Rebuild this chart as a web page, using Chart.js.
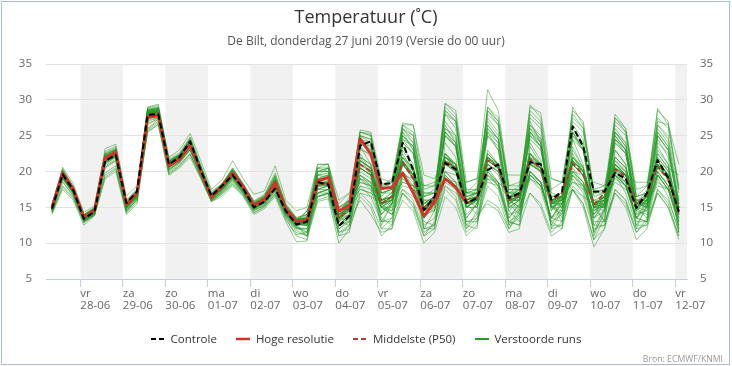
<!DOCTYPE html>
<html>
<head>
<meta charset="utf-8">
<script src="https://cdn.jsdelivr.net/npm/chart.js@4.4.1/dist/chart.umd.min.js"></script>
<style>
html,body{margin:0;padding:0;background:#fff;}
#wrap{position:relative;width:732px;height:366px;overflow:hidden;font-family:"Open Sans",sans-serif;}
canvas{position:absolute;left:0;top:0;}
#frame{position:absolute;left:1px;top:1px;width:729px;height:364px;border:1px solid #a9bed6;box-sizing:border-box;pointer-events:none;}
#title{position:absolute;left:0;top:7.3px;width:732px;text-align:center;font-size:18px;line-height:18px;color:#333;white-space:nowrap;}
#subtitle{position:absolute;left:0;top:35.3px;width:732px;text-align:center;font-size:12px;line-height:12px;color:#555;white-space:nowrap;}
#legend{position:absolute;left:0;top:331.5px;width:732px;display:flex;justify-content:center;font-size:11.5px;line-height:14px;color:#333;white-space:nowrap;}
#legend .item{display:flex;align-items:center;margin:0 9.5px;}
#legend svg{margin-right:6px;}
#credit{position:absolute;right:9px;top:354px;font-size:8.7px;line-height:10px;color:#999;white-space:nowrap;}
</style>
</head>
<body>
<div id="wrap">
  <canvas id="c" width="732" height="366" style="width:732px;height:366px"></canvas>
  <div id="title">Temperatuur (˚C)</div>
  <div id="subtitle">De Bilt, donderdag 27 juni 2019 (Versie do 00 uur)</div>
  <div id="legend"></div>
  <div id="credit">Bron: ECMWF/KNMI</div>
  <div id="frame"></div>
</div>
<script>
// ---------- DATA ----------
// time axis: hours since 27-06 00:00 (local); first value at 08:00, every 6 hours
const firstHour = 8;
const stepHours = 6;

const dayNames  = ['vr','za','zo','ma','di','wo','do','vr','za','zo','ma','di','wo','do','vr'];
const dayDates  = ['28-06','29-06','30-06','01-07','02-07','03-07','04-07','05-07','06-07','07-07','08-07','09-07','10-07','11-07','12-07'];
const shadedDays = ['28-06','30-06','02-07','04-07','06-07','08-07','10-07','12-07'];
const yTicks = [5,10,15,20,25,30,35];

const controle = [14.8,19.6,17.4,13.4, 14.4,21.5,22.3,15.6, 17.2,27.9,28.0,21.0, 22.0,24.2,20.2,16.6, 18.0,19.5,17.6,15.0, 15.8,17.6,14.5,12.6, 13.0,18.5,18.2,12.4, 13.8,23.6,24.2,18.2, 18.4,24.0,20.2,14.6, 16.5,21.2,20.3,15.6, 16.3,20.2,21.0,16.3, 17.0,21.3,21.0,16.1, 17.2,26.3,23.5,17.2, 17.2,19.8,19.0,14.9, 17.0,21.6,19.1,14.4];

const hogeResolutie = [15.0,19.8,17.6,13.6, 14.6,21.9,22.7,15.4, 17.0,27.5,27.8,20.8, 21.7,23.7,20.0,16.4, 18.0,19.8,17.9,15.3, 16.1,18.5,14.8,13.1, 13.2,18.7,19.2,14.5, 15.3,24.6,22.4,17.6, 17.8,19.8,17.0,13.8, 15.7,19.0,17.8,15.6];

const middelste = [14.9,19.5,17.3,13.5, 14.5,21.6,22.5,15.2, 16.9,28.0,28.2,21.0, 21.9,23.8,20.1,16.5, 17.8,19.6,17.6,15.2, 16.0,18.2,14.5,12.8, 13.0,18.0,18.5,13.5, 14.8,21.0,20.0,15.5, 16.5,21.3,19.0,14.5, 16.2,21.5,20.5,15.6, 16.3,21.6,20.6,16.0, 16.8,21.7,20.5,15.8, 17.0,21.2,19.5,15.4, 17.0,20.3,19.3,15.4, 16.8,20.7,18.9,14.1];

const verstoordeRuns = [
[15.2,19.9,17.6,13.8,14.7,22,22.9,15.5,17.1,28.4,28.6,21.3,22.2,24.3,20.4,16.8,18,20,17.9,15.4,16.3,18.8,14.9,13,12.5,19.5,19.8,13,14,24.5,23,16,17,22,19.5,14,15.5,28.5,27,16.5,17,25,23.5,15,15,20,18.5,13,14,25.5,23,15.5,16.5,21,20,15,13.5,24.5,22,12],
[14.6,19.1,17,13.2,14.2,21.2,22.1,14.9,16.6,27.6,27.9,20.7,21.5,23.4,19.8,16.2,17.5,19.2,17.3,15,15.7,17.8,14.2,12.5,13.2,18.2,18,13.8,15.5,18,17.5,15.5,15.5,17.5,16.5,14.5,16,21,20.5,16,16.5,28,26.5,17,18,26,24,15,15.5,20,18,13.5,14.5,24,22.5,14.5,16,21.5,19.5,15],
[15.4,20.4,17.9,13.9,14.9,22.6,23.3,15.9,17.4,28.8,29,21.6,22.4,24.7,20.8,16.9,18.2,20.4,18.2,15.8,16.6,19.5,15.2,13.3,13.6,20.5,20,14.5,15.3,25,24.5,17,17.5,25.5,23,15.5,16.5,26.5,24,15,16,22,20.5,16.5,17,28,26.5,16,13.5,24.5,21,12.5,14.5,19.5,18,13.5,15,26,24,16],
[14.3,18,16.4,13,14,19.8,20.8,14.5,16,26,27,20,21,22.5,19.3,16,17,18.5,16.9,14.6,15.2,17,13.8,11.5,11,16,16.5,11,12.5,18,16.5,13,13,17,15.5,11,13,19.5,18,13,13.5,16,15,12,14,19,17.5,12.5,12.5,17.5,15.5,10.5,13.5,20,18,13,13,17,15,11],
[14.9,19.6,17.3,13.5,14.5,21.7,22.6,15.2,16.9,28.1,28.3,21,21.9,23.9,20.1,16.5,17.8,19.7,17.6,15.2,16,18.3,14.6,12.9,13,18,18.5,13.5,15.5,25.5,25,18,19,26.5,25.5,17,17,21.5,20,15,15,20,18,13.5,15.5,21.5,20.5,16,16.5,29,26.5,17.5,18,25,23,15,16.5,21,19,14.5],
[15,19.7,17.5,13.7,14.4,21.9,22.4,15.4,17,28.3,28.1,21.2,22,23.6,20.3,16.6,17.9,19.9,17.8,15.4,16.2,18.6,14.4,12.4,14,17,17.5,14.5,15,20.5,19.5,15,15,20,18,13.5,15,25.5,23.5,14,15.5,29,27,17.5,17.5,22,20,15.5,16,17.5,16.5,15.5,16,20.5,19.5,15.5,15,19.5,17.5,13],
[14.4,19,16.8,13,14.1,21,22,14.8,16.5,27.4,27.7,20.6,21.4,23.2,19.7,16.1,17.4,19.1,17.2,14.8,15.6,17.6,14,12.2,11.5,19,19.5,12.5,13,23.5,21,13,15.5,21,19.5,15,16.5,19,18,16.5,17,21.5,20.5,16,16,25,23.5,14.5,16.5,21.5,20,15.5,16,27.5,25.5,16.5,18,28.5,27,17.5],
[15.3,20,17.7,13.9,14.8,22.2,23,15.7,17.3,28.6,28.7,21.5,22.3,24.4,20.6,16.9,18.2,20.2,18.1,15.6,16.5,19.2,15,13.3,13.5,18.5,19,14,14.5,24,22.5,15.5,16,21.5,19,14.5,16,29.5,28,17,18.5,31.4,28.5,18,18.5,27,24,15.5,16.5,22,20,15.5,13,23,21,12,15.5,22.5,20.5,15],
[14.2,17.8,16.2,12.8,13.9,20.5,21.5,14.3,16.2,26.8,27.2,20.2,21.2,23,19.5,16,17.2,18.8,17,14.7,15.4,17.3,14.1,12,12,17,17.5,12.5,14,20,19,14.5,15.5,24.5,22.5,14,14.5,19.5,18,13.5,15.5,21,20,16,17,19,18,16.5,15,19.5,17.5,13,13,17,15.5,11.5,13.5,19.5,17.5,12.5],
[15.1,19.8,17.5,13.6,14.6,21.8,22.7,15.3,17.1,28.2,28.5,21.1,22,24,20.2,16.6,17.9,19.8,17.7,15.3,16.1,18.4,14.7,13,13,20,20.5,14,16,25.8,25.5,19,18.5,25,23.5,16,16,26,24.5,15.5,16,22.5,21,16,16.5,22,20.5,16,16,25,23,14.5,16,21.5,20,15.5,15.5,25,23,15],
[14.8,19.4,17.2,13.4,14.5,21.5,22.3,15.1,16.8,27.9,28.1,20.9,21.8,23.7,20,16.4,17.7,19.5,17.5,15.1,15.9,18,14.4,12.7,12.8,17.8,18.2,13.2,14,19,18,14,15.5,21,19,14.5,16,22,20.5,15.5,15.5,25.5,23,14.5,13,24,21.5,12,12.5,23.5,20.5,11.5,15,21,19.5,15,16,21,19,14],
[15.4,20.2,17.8,14,15,22.8,23.5,16,17.6,28.9,29.2,21.8,22.6,24.8,20.9,17.2,18.3,20.5,18.3,15.9,16.8,19.8,15.5,13.6,14,21,21,15,16,24.5,24,17.5,18.5,26.8,26.5,18,18,22,21,16,16.5,26,24,15,16,22.5,21,16,16.5,21.5,20,15,15.5,25.5,23.5,15.5,17,19.5,18.5,16.5],
[14.5,19.2,16.9,13.1,14.1,19.2,20.3,14.2,15.8,25.6,26.6,19.6,20.7,22.3,19.2,15.9,16.9,18.3,16.7,14.3,15.1,16.8,13.5,11,10.5,15.8,16.2,10,12,17,15.5,12,13.5,19,17.5,13,12.5,17.5,16,11.5,13,19.5,18,13,12.5,17,15.5,11.5,13,19,17,12.5,12.5,17.5,16,11.5,13,19,16.5,11.5],
[15,19.6,17.4,13.6,14.6,21.7,22.5,15.3,17,28.1,28.3,21,21.9,23.8,20.2,16.5,17.8,19.6,17.6,15.2,16,18.2,14.5,12.8,13,18.5,18.8,13.5,14.5,21,20,15.5,16,24.5,23.5,15,15.5,26,25,15.5,16.5,26.5,24.5,15.5,17,29.3,27.5,17.5,18.5,27.5,26,16.5,17,22,20.5,15.5,15.5,24,22.5,15],
[14.7,19.3,17.1,13.3,14.3,21.4,22.2,15,16.7,27.8,28,20.8,21.7,23.5,19.9,16.3,17.6,19.4,17.4,15,15.8,18,14.3,12.6,11,19.5,19,12,13.5,21.5,20.5,15,14,17,15,11,12,22.5,20.5,12,14.5,25,23,14.5,16,21,20,15.5,16.5,18.5,17.5,16,15.5,19.5,18,13.5,13,17.5,16,12],
[15.1,20.1,17.6,13.7,14.8,22.3,23.1,15.7,17.3,28.5,28.8,21.4,22.1,24.1,20.5,16.7,18,20.1,17.9,15.5,16.3,18.9,14.9,13.2,14.5,17.5,18,15,16,18.5,18,16,16.5,21,19.5,15.5,16.5,21.5,20.5,16,17.5,19.5,18.5,17,17,21.5,20,15.5,16,21,19.5,15.5,15.5,24.5,22.5,14.5,17,28.8,26.5,18],
[14.9,19.4,17.3,13.5,14.4,21.3,22.3,15,16.4,26.5,27.5,20.5,21.6,23.5,19.9,16.4,17.6,19.3,17.4,15.1,15.9,18.4,14.8,13.4,13.5,18,18,14,15,21.5,20.5,16,16.5,21.5,19.5,15,16.5,21,20,15.5,16.5,21.5,21,16.5,17,24.5,23,15,15,20.5,18.5,14,16.5,20.5,19.5,15.5,16.5,20.5,19,14.5],
[15.2,19.9,17.4,13.6,14.7,22.1,22.8,15.6,17.2,28.6,28.9,21.3,22.3,24.3,20.3,16.5,18,20.3,18.1,15.6,16.4,19,15.2,13.5,13.5,20.5,21.1,14.5,15.5,24,23.5,17,17.5,22.5,20,15,16.5,28,26,16.5,17,22,21,16.5,17.5,28.5,27,17,16.5,26,24,15,16,28,26,16.5,17,26.5,24.5,15.5],
[14.2,18.7,16.6,12.9,13.9,20.8,21.7,14.6,16.3,27.2,27.5,20.4,21.2,23.1,19.5,15.9,17.1,18.9,17,14.6,15.3,17.5,13.8,12,12,17.5,17.5,12.5,13.5,19.5,18.5,14,16,18.5,18,16.5,17,19,18.5,17,17,21,20,16,15,19.5,18,13.5,15.5,21,19.5,15,16.5,18.5,17.5,16,16,21,19,14.5],
[14.9,19.7,17.4,13.5,14.6,21.8,22.6,15.2,17,28,28.4,21.1,22,23.9,20.1,16.6,17.9,19.7,17.7,15.3,16.1,18.5,14.6,12.8,13,18.2,18.6,13.6,15,23.5,22,15.5,16.5,25,23,14.5,16,22.5,21,16,16.5,26.5,24.5,15.5,16.5,25.5,23.5,15,16,22,20.5,15.5,16.5,21.5,20,15.5,16,25.5,23.5,15.5],
[14.6,19.2,17,13.2,14.2,21.3,22.2,14.9,16.6,27.7,27.9,20.7,21.6,23.5,19.8,16.2,17.5,19.3,17.3,14.9,15.7,17.9,14.2,12.4,11.5,16.5,16.8,11.5,12,16.5,15,11,12.5,16,14.5,10,11.5,16.5,15,11,12.5,19,17.5,12.5,13.5,19.5,18,13,12,17.5,15.5,10.5,12,17,15,10.5,12,17.5,15.5,11],
[15.3,20,17.7,13.8,14.9,22.3,23,15.6,17.3,28.5,28.7,21.4,22.3,24.3,20.5,16.8,18.1,20.1,18,15.5,16.4,18.9,15,13.2,13.5,20,20,14,15,22,21,16,16.5,25.5,24,15,16,28.5,27,17,17.5,27,25,15.5,16.5,22,21,16,16.5,28,26,17,17.5,22,20.5,16,16.5,22,20,15],
[14.9,19.5,17.3,13.5,14.4,19.5,20.5,14.5,16,25.5,26.5,19.5,20.5,22,19,15.8,16.5,18,16.5,14,14.8,16.5,13,10.2,10.3,18.5,18,11,11.5,22,19.5,12,12,23,20.5,12,14.5,21,20,15,16,21,19.5,15.5,14,17,15,11,12,22.5,20,11.5,14,25,23,14,14.5,20,18,13],
[15.1,19.8,17.6,13.7,14.7,22,22.8,15.4,17.2,28.3,28.5,21.2,22.1,24,20.3,16.7,18,19.9,17.8,15.4,16.2,18.6,14.8,13.1,14,16.5,17,14.5,15.5,20.5,19.5,15,16.5,26.5,25,17.5,18,27,25,16,17,22.5,21,16.5,16.5,26,24.5,15.5,15.5,20,18.5,14,16,21,19.5,15,16,21.5,19.5,14.5],
[14.8,19.4,17.2,13.4,14.4,21.5,22.4,15.1,16.8,27.9,28.1,20.9,21.8,23.7,20,16.4,17.7,19.5,17.5,15.1,15.9,18.1,14.4,12.7,13,18,18.5,13.5,15,17,16.5,15.5,16,18,17.5,16,16,25,23.5,15,16,21.5,20.5,16,16.5,21,20,15.5,15.5,24.5,23,15,15,19.5,18.5,14,15.5,21,19,14],
[15.2,19.8,17.6,13.8,14.8,22,22.8,15.5,17.2,28.4,28.5,21.3,22.2,24.2,20.4,16.8,18.1,20,17.9,15.5,16.3,18.7,14.8,13.1,13.3,18.5,19,14,16.5,25.5,25,18.5,17.5,22,20.5,15.5,16,22,21,16,15,20,18.5,13.5,15.5,25.5,23.5,14.5,16.5,21.5,20,15.5,16.5,27,25.5,16.5,17,25.5,23.5,15.5],
[14.6,19.1,17,13.2,14.2,21.2,22.1,14.9,16.6,27.6,27.9,20.7,21.6,23.4,19.8,16.2,17.5,19.2,17.3,14.9,15.7,17.8,14.2,12.5,12.8,17.5,18,13.5,14.5,20.5,19.5,15,14.5,19.5,17.5,13.5,16,18.5,17.5,16,16.5,18.5,18,16.5,16.5,21.5,20.5,16,16.5,18.5,18,16,16.5,21,19.5,15,16,18,17.5,16],
[15.3,20.1,17.8,14,14.9,22.5,23.2,15.8,17.4,28.7,28.9,21.5,22.4,24.5,20.7,17,18.3,20.4,18.2,15.7,16.7,19.4,15.4,13.5,14,20.5,20.5,14.5,16,25.5,25.3,18,17.5,26,24,15.5,16.5,28,27,17.5,17.5,29,27.5,18,18,26.5,25,16,16.5,26.5,24.5,15,15.5,26,24,15,16.5,27,26.5,21],
[14.7,19.3,17.1,13.3,14.3,21.4,22.3,15,16.7,27.8,28,20.8,21.7,23.6,19.9,16.3,17.6,19.4,17.4,15,15.8,18,14.3,12.6,12.5,17,17.5,13,12.5,22.5,20,12.5,15.5,24,22.5,14.5,16,21.5,20.5,15.5,16,22,20.5,16,14.5,20,18.5,13.5,15.5,22,20.5,15.5,15,20,18.5,13.5,15.5,21.5,19.5,14],
[15,19.6,17.3,13.6,14.5,21.7,22.6,15.3,16.9,28.1,28.2,21.1,21.9,23.9,20.1,16.5,17.8,19.6,17.6,15.2,16,18.2,14.6,12.9,13,18.5,18.5,13.5,14.5,21,20,15.5,16.5,21.5,19,14.5,15.5,29,27.5,17,17.5,22.5,21,16.5,17,19.5,18.5,16.5,16.5,21,19.5,15.5,16.5,19,18,16,16,20.5,19,14.5],
[15.1,19.7,17.5,13.6,14.6,21.9,22.7,15.4,17,28.3,28.4,21.1,22,24,20.3,16.6,17.9,19.8,17.7,15.3,16.1,18.4,14.6,12.9,13,19.5,20.5,14,15,24.5,23.5,16,17,26,25,16.5,17.5,22,20.5,15.5,16,28.5,27,17,17.5,26.5,24.5,15,16,28.5,27,17,17,25.5,23.5,15.5,16.5,22,20,15],
[14.4,18.5,16.6,13,14,20.6,21.5,14.6,16.3,27,27.5,20.3,21.3,23,19.5,16,17.2,18.7,16.9,14.5,15.4,17.2,13.7,11.8,11,16.5,17,11.5,12.5,19,17.5,13,13.5,19.5,17,12.5,13.5,20,18.5,13,13,18,16.5,12,14.5,21,20,15,14,17.5,15,9.5,12,19.5,17,12.5,12.5,23.5,21,11.5],
[15.2,19.9,17.6,13.8,14.7,22.1,22.9,15.5,17.2,28.4,28.6,21.3,22.2,24.2,20.4,16.7,18.1,20,17.9,15.4,16.3,18.7,14.9,13.1,13.5,19,19,14,15,23,22.5,16,16.5,22,20,15,16,25.5,24,15.5,16.5,22,20.5,16,16.5,27.5,26,16.5,17,22,20,15.5,16,24.5,23,15,16,22.5,20.5,14.5],
[14.8,19.5,17.2,13.4,14.4,21.6,22.4,15.1,16.8,28,28.1,20.9,21.8,23.7,20,16.4,17.7,19.5,17.5,15.1,15.9,18.1,14.4,12.7,12.5,17.5,18,13,15.5,17.5,17,16,16.5,18.5,18,17,17,21.5,20.5,16,16.5,21,20,16,15,20,18.5,13.5,14.5,19.5,18,13.5,15.5,21,19.5,15,14.5,19.5,17.5,13.5],
[15.3,20.2,17.8,13.9,14.8,22.4,23.1,15.6,17.3,28.6,28.8,21.4,22.3,24.5,20.6,16.9,18.2,20.2,18.1,15.6,16.5,19.3,15.3,13.4,13.5,20,20.5,14.5,15.5,25,24,16.5,18,26.5,26.5,19.5,19,22,21,17,17,22,21,16.5,16.5,22.5,21,16,16,25.5,23.5,15.5,16.5,22,20.5,15.5,17.5,27.5,26,17.5],
[14.5,19,16.9,13.1,14.1,21.1,22,14.8,16.5,27.5,27.8,20.6,21.5,23.3,19.7,16.1,17.4,19.1,17.2,14.8,15.6,17.7,14.1,12.3,11,18,18.5,12,13,19.5,18.5,13.5,12.5,23.5,21,12,12,24,22,12.5,14,20,18.5,13,12.5,23.5,21,12,14.5,21.5,20,15,13,23,21,12.5,15,21,19,13.5],
[15,19.6,17.4,13.6,14.6,21.7,22.5,15.3,17,28.1,28.3,21,22,23.9,20.2,16.6,17.9,19.7,17.7,15.3,16.1,18.3,14.6,12.9,13.2,18.3,18.6,13.5,15,21.5,20.5,15.5,16.5,21,19.5,15,15.5,25.5,24,15,16.5,19,18.5,17,17,21.5,20.5,16,16.5,21.5,20,15.5,16,26.5,25,16,15,20,18,13],
[14.9,19.4,17.3,13.5,14.5,21.6,22.4,15.2,16.9,27.9,28.2,21,21.9,23.8,20.1,16.5,17.8,19.6,17.6,15.2,16,18.2,14.5,12.8,14.5,17,17.5,15,15.5,17.5,17,15.5,14,19.5,18,13.5,15.5,21,20,15.5,16,25.5,24,15,16,25,23.5,15,14.5,19.5,18,13.5,15.5,20.5,19,15,15.5,21,19.5,14.5],
[15.5,20.6,18.3,14.3,15.2,23.2,23.8,16.6,18,29,29.4,22,23,25.3,21.5,17.5,18.8,21.5,19,16.8,17.3,20.8,16,14.5,15,21,21,16,17,25,24.5,18,18,26,24.5,16.5,17,29.5,28.5,18.5,19,27.5,25.5,16.5,17.5,29,28.2,19,18.5,27,25.5,17,17.5,27.5,26,17.5,18,26.5,25,17],
[14.7,19.3,17.1,13.3,14.3,21.4,22.3,15,16.7,27.8,28,20.8,21.7,23.6,19.9,16.3,17.6,19.4,17.4,15,15.8,18,14.3,12.6,12.8,18,18.3,13.3,14.5,20.5,19.5,15,16,21,19,14.5,16,21.5,20.5,15.5,16,21.5,20.5,16,16.5,21.5,20.5,15.5,16.5,21,19.5,15,16.5,20.5,19,15,16.5,20.5,19,14],
[15.1,19.8,17.5,13.7,14.7,21.9,22.8,15.4,17.1,28.3,28.5,21.2,22.1,24,20.3,16.7,18,19.9,17.8,15.4,16.2,18.5,14.7,13,14.5,18,18.5,15.5,17,19,18.5,17,17.5,19.5,19,18,18.5,20,19.5,18.5,19,20.5,20.5,19.5,19.5,21,20.5,19,18.5,20,19.5,18.5,18,20,19.5,18.5,18.5,21,20.5,19.5],
[14.6,19.2,17,13.2,14.2,21.3,22.2,14.9,16.6,27.7,28,20.7,21.6,23.5,19.8,16.2,17.5,19.3,17.3,14.9,15.7,17.9,14.2,12.5,12.5,18,18.5,13.5,13,16,14,11.5,12,17,15.5,11.5,12.5,19,17.5,12.5,12,23,21,12.5,15,21,20,15.5,13,23,20.5,11,14.5,21,19.5,14.5,14,19.5,17.5,12.5],
[15.3,20,17.7,13.8,14.9,22.3,23,15.6,17.3,28.5,28.7,21.4,22.3,24.3,20.5,16.8,18.1,20.1,18,15.5,16.4,18.9,15,13.2,13.5,19,19.5,14.5,16,24,23,17,17,22,20.5,15.5,16.5,22.5,21,16,17,28.5,26.5,17.5,17.5,22.5,21,16,16,25,23.5,15,15,20,18.5,13.5,15,25,23,15],
[14,17.5,16,12.5,13.8,19,20,14,15.5,25.8,26.8,19.8,20.8,22.5,19.2,15.8,16.8,18.2,16.7,14.2,15,16.8,13.3,11.2,11.5,16.5,17,12.5,14,20.5,19.5,15,14,17.5,16,12,12.5,18,16.5,12,13.5,19.5,18,13,14,19.5,18,13.5,13,18,16.5,12,12.5,17.5,16,12,12.5,17,15,10.5],
[15,19.7,17.4,13.5,14.6,21.8,22.6,15.3,17,28.2,28.4,21.1,22,23.9,20.2,16.6,17.9,19.7,17.7,15.3,16.1,18.3,14.6,12.9,13.2,18.2,18.5,13.5,14.8,21,20,15.5,16,24,22.5,14.5,15,25,23.5,15,16,22,20.5,16,16,21.5,20.5,16,16.5,21.5,20,15.5,15.5,24,22.5,15,16,21.5,19.5,14.5],
[14.8,19.4,17.2,13.4,14.4,21.5,22.3,15.1,16.3,26,27.3,20.2,21.4,23,19.7,16.2,17.4,19,17.1,14.8,15.6,17.6,14,12.2,12,17,17,12.5,14,20.5,19.5,15,16,21.5,19.5,14.5,16,18,17,15.5,14,15.5,14.5,11.5,12,22.5,20.5,12.5,15,21,19.5,15,14.5,19.5,18,13.5,16,18.5,17.5,16],
[15.2,19.9,17.6,13.7,14.7,22,22.9,15.5,17.2,28.4,28.6,21.3,22.2,24.2,20.4,16.7,18.1,20,17.9,15.5,16.3,18.7,14.9,13.1,13,20,20,14,15,22,21,15.5,16.5,25,23.5,15,16.5,22.5,21,15.5,16,26,24.5,15.5,16.5,22.5,20.5,15.5,16,25.5,23,14.5,15.5,25.5,24,15.5,16.5,25,23,15],
[14.7,19.3,17.1,13.3,14.3,21.4,22.3,15,16.7,27.8,28,20.8,21.7,23.6,19.9,16.3,17.6,19.4,17.4,15,15.8,18,14.3,12.6,12.8,18,18.5,13.5,14,19.5,18,14,15.5,21,19.5,15,14.5,20,18.5,13.5,15.5,21.5,20.5,16,16,21.5,20.5,16,15,20,18.5,14,15.5,20.5,19.5,15.5,15,20,18,13.5],
[14.9,19.5,17.3,13.5,14.5,21.6,22.5,15.2,16.9,28,28.2,21,21.9,23.8,20.1,16.5,17.8,19.6,17.6,15.2,16,18.2,14.5,12.8,12.5,19.5,19.5,13.5,15,21.5,20.5,15.5,14.5,20,18.5,13.5,15.5,22,21,16,16.5,22,20.5,16,16,25.5,24,15.5,16.5,21.5,20,15.5,15,19.5,18,13.5,13,23,21,11.5],
[15.1,19.8,17.5,13.6,14.7,21.9,22.7,15.4,17.1,28.2,28.4,21.1,22.1,24,20.3,16.6,17.9,19.8,17.7,15.3,16.2,18.5,14.7,12.9,13,18.5,18.5,13.5,16,18.5,18,16,16,21.5,19.5,15,16,25,23.5,15,15,20.5,18.5,14,14.5,20,18.5,13.5,16,21.5,20,15.5,15,24.5,23,14.5,16,21,19,14]
];

// ---------- STYLES ----------
const COL_CONTROLE = '#000000';
const COL_HRES = '#d8312a';
const COL_P50 = '#a3462f';
const COL_ENS = 'rgba(34,152,34,0.5)';
const COL_ENS_LEGEND = '#2a9a2a';

Chart.defaults.font.family = "'Open Sans', sans-serif";

const tickHours = dayDates.map((d, i) => (i + 1) * 24);
const toPoints = arr => arr.map((v, i) => ({ x: firstHour + i * stepHours, y: v }));

const datasets = [
  { label: 'Controle', data: toPoints(controle), borderColor: COL_CONTROLE, borderWidth: 2, borderDash: [6, 3] },
  { label: 'Hoge resolutie', data: toPoints(hogeResolutie), borderColor: COL_HRES, borderWidth: 2.8 },
  { label: 'Middelste (P50)', data: toPoints(middelste), borderColor: COL_P50, borderWidth: 2, borderDash: [5, 3] }
];
verstoordeRuns.forEach((run, j) => {
  datasets.push({ label: j === 0 ? 'Verstoorde runs' : '', data: toPoints(run), borderColor: COL_ENS, borderWidth: 1 });
});
datasets.forEach(d => { d.pointRadius = 0; d.tension = 0; d.fill = false; d.borderJoinStyle = 'round'; d.xAxisID = 'x'; d.yAxisID = 'y'; });

const bandsPlugin = {
  id: 'dayBands',
  beforeDraw(chart) {
    const { ctx, chartArea: a, scales: { x } } = chart;
    ctx.save();
    ctx.fillStyle = '#f1f1f1';
    shadedDays.forEach(d => {
      const idx = dayDates.indexOf(d);
      const start = tickHours[idx];
      let x0 = x.getPixelForValue(start);
      let x1 = x.getPixelForValue(start + 24);
      x0 = Math.max(x0, a.left); x1 = Math.min(x1, a.right);
      if (x1 > x0) ctx.fillRect(x0, a.top, x1 - x0, a.bottom - a.top);
    });
    ctx.restore();
  }
};

const tickFont = { family: "'Open Sans', sans-serif", size: 11.5, lineHeight: 1.1 };

new Chart(document.getElementById('c'), {
  type: 'line',
  data: { datasets },
  options: {
    responsive: false,
    animation: false,
    devicePixelRatio: 1,
    layout: { padding: { top: 64, left: 0, right: 0, bottom: 0 } },
    plugins: { legend: { display: false }, tooltip: { enabled: false }, title: { display: false } },
    scales: {
      x: {
        type: 'linear', position: 'bottom', min: 4.6, max: 366.6,
        afterBuildTicks: s => { s.ticks = tickHours.map(v => ({ value: v })); },
        afterFit: s => { s.height = 87; },
        ticks: {
          autoSkip: false, maxRotation: 0, minRotation: 0, align: 'start', padding: 0,
          color: '#666', font: tickFont,
          callback: (v) => { const i = tickHours.indexOf(v); return i >= 0 ? [dayNames[i], dayDates[i]] : ''; }
        },
        grid: { drawOnChartArea: false, drawTicks: true, tickLength: 8, color: '#c0d0e0', lineWidth: 1 },
        border: { display: true, color: '#c0d0e0', width: 1 }
      },
      y: {
        position: 'left', min: 5, max: 35,
        afterBuildTicks: s => { s.ticks = yTicks.map(v => ({ value: v })); },
        afterFit: s => { s.width = 46; },
        ticks: { color: '#666', font: tickFont, padding: 14 },
        grid: { drawTicks: false, color: c => (c.tick && c.tick.value === 5) ? 'rgba(0,0,0,0)' : '#e2e2e2' },
        border: { display: false }
      },
      y2: {
        position: 'right', min: 5, max: 35,
        afterBuildTicks: s => { s.ticks = yTicks.map(v => ({ value: v })); },
        afterFit: s => { s.width = 45; },
        ticks: { color: '#666', font: tickFont, padding: 13 },
        grid: { display: false, drawTicks: false },
        border: { display: false }
      }
    }
  },
  plugins: [bandsPlugin]
});

// ---------- HTML legend ----------
const legendItems = [
  { text: 'Controle', color: COL_CONTROLE, dash: '5,3', width: 2 },
  { text: 'Hoge resolutie', color: COL_HRES, dash: '', width: 2.5 },
  { text: 'Middelste (P50)', color: COL_P50, dash: '5,3', width: 2 },
  { text: 'Verstoorde runs', color: COL_ENS_LEGEND, dash: '', width: 2 }
];
const legendEl = document.getElementById('legend');
legendItems.forEach(it => {
  const item = document.createElement('span');
  item.className = 'item';
  item.innerHTML = '<svg width="14" height="10" viewBox="0 0 14 10"><line x1="0" y1="5" x2="14" y2="5" stroke="' + it.color + '" stroke-width="' + it.width + '"' + (it.dash ? ' stroke-dasharray="' + it.dash + '"' : '') + '/></svg>';
  const t = document.createElement('span');
  t.textContent = it.text;
  item.appendChild(t);
  legendEl.appendChild(item);
});
</script>
</body>
</html>
